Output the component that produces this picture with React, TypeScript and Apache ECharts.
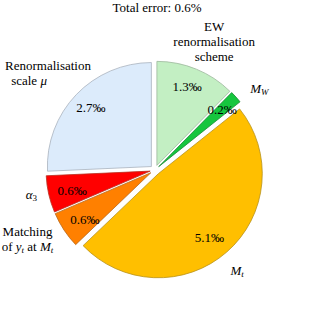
import React, { useEffect, useRef } from "react";
import * as echarts from "echarts";

const categories = [
  "EW renormalisation scheme",
  "M_W",
  "M_t",
  "Matching of y_t at M_t",
  "alpha_3",
  "Renormalisation scale mu",
];
const values = [1.3, 0.2, 5.1, 0.6, 0.6, 2.7];
const colors = ["#C3EFC3", "#16C63E", "#FFBF00", "#FF8000", "#FF0000", "#DCEBFB"];
const borders = ["#9DB89D", "#1A8A33", "#B8921A", "#B86A20", "#B83020", "#A9B3BE"];
const outerLabels = [
  "{n|EW}\n{n|renormalisation}\n{n|scheme}",
  "{i|M}{s|W}",
  "{i|M}{s|t}",
  "{n|Matching}\n{n|of }{i|y}{s|t}{n| at }{i|M}{s|t}",
  "{i|α}{s3|3}",
  "{n|Renormalisation}\n{n|scale }{i|μ}{gap| }",
];
const multiLine = [true, false, false, true, false, true];
const title = "Total error: 0.6%";

// label nudges [dx, dy] in px (layout only)
const outerNudge = [[3, 8], [7, 6], [-4, 2], [-4, -13], [4, -5], [0, 5]];
const innerNudge = [[-2, 0], [0, 4], [-5, 8], [5, -3], [5, -4], [1, -2]];

const FONT = "Liberation Serif";

const nudgePadding = (d: number[]) => [
  Math.max(0, 2 * d[1]),
  Math.max(0, -2 * d[0]),
  Math.max(0, -2 * d[1]),
  Math.max(0, 2 * d[0]),
];

export default function App() {
  const ref = useRef<HTMLDivElement>(null);
  useEffect(() => {
    if (!ref.current) return;
    const chart = echarts.init(ref.current, undefined, { renderer: "svg" });
    const center = [155, 170];
    const R = 104;
    const rich = {
      n: { fontSize: 13, fontFamily: FONT, color: "#000", lineHeight: 15 },
      i: { fontSize: 13, fontFamily: FONT, color: "#000", lineHeight: 15, fontStyle: "italic" },
      s: { fontSize: 9, fontFamily: FONT, color: "#000", lineHeight: 8, padding: [7, 0, 0, 0], fontStyle: "italic" },
      s3: { fontSize: 9, fontFamily: FONT, color: "#000", lineHeight: 8, padding: [7, 0, 0, 0] },
      gap: { fontSize: 13, fontFamily: FONT, width: 38, lineHeight: 15 },
    };
    const transparentBase = {
      type: "pie",
      center,
      startAngle: 90,
      clockwise: true,
      silent: true,
      animation: false,
      labelLine: { show: false },
      emphasis: { disabled: true },
      itemStyle: { color: "rgba(0,0,0,0)", borderWidth: 0 },
    };
    const option = {
      animation: false,
      textStyle: { fontFamily: FONT },
      title: {
        text: title,
        left: "center",
        top: 1,
        padding: 0,
        textStyle: { fontSize: 13, fontWeight: "normal", fontFamily: FONT, color: "#000" },
      },
      series: [
        {
          type: "pie",
          center,
          radius: [0, R],
          startAngle: 90,
          clockwise: true,
          selectedMode: "multiple",
          selectedOffset: 5,
          silent: true,
          emphasis: { disabled: true },
          label: { show: false },
          labelLine: { show: false },
          data: values.map((v, i) => ({
            name: categories[i],
            value: v,
            selected: true,
            itemStyle: { color: colors[i], borderColor: borders[i], borderWidth: 0.8 },
            select: { itemStyle: { color: colors[i], borderColor: borders[i], borderWidth: 0.8 } },
          })),
        },
        {
          ...transparentBase,
          radius: [R * 0.58, R],
          selectedMode: "multiple",
          selectedOffset: 5,
          label: {
            show: true,
            position: "inside",
            fontSize: 13,
            fontFamily: FONT,
            color: "#000",
            formatter: (p: any) => `${values[p.dataIndex].toFixed(1)}‰`,
          },
          data: values.map((v, i) => ({
            name: categories[i],
            value: v,
            selected: true,
            label: { padding: nudgePadding(innerNudge[i]) },
            select: { itemStyle: { color: "rgba(0,0,0,0)", borderWidth: 0 } },
          })),
        },
        {
          ...transparentBase,
          radius: [135, 155],
          label: {
            show: true,
            position: "inside",
            align: "center",
            fontFamily: FONT,
            rich,
            formatter: (p: any) => (multiLine[p.dataIndex] ? outerLabels[p.dataIndex] : ""),
          },
          data: values.map((v, i) => ({
            name: categories[i],
            value: v,
            label: { padding: nudgePadding(outerNudge[i]) },
          })),
        },
        {
          ...transparentBase,
          radius: [118, 138],
          label: {
            show: true,
            position: "inside",
            align: "center",
            fontFamily: FONT,
            rich,
            formatter: (p: any) => (multiLine[p.dataIndex] ? "" : outerLabels[p.dataIndex]),
          },
          data: values.map((v, i) => ({
            name: categories[i],
            value: v,
            label: { padding: nudgePadding(outerNudge[i]) },
          })),
        },
      ],
    };
    chart.setOption(option as any);
    return () => chart.dispose();
  }, []);
  return (
    <div
      ref={ref}
      style={{ position: "fixed", left: 0, top: 0, width: 314, height: 328, background: "#fff" }}
    />
  );
}
